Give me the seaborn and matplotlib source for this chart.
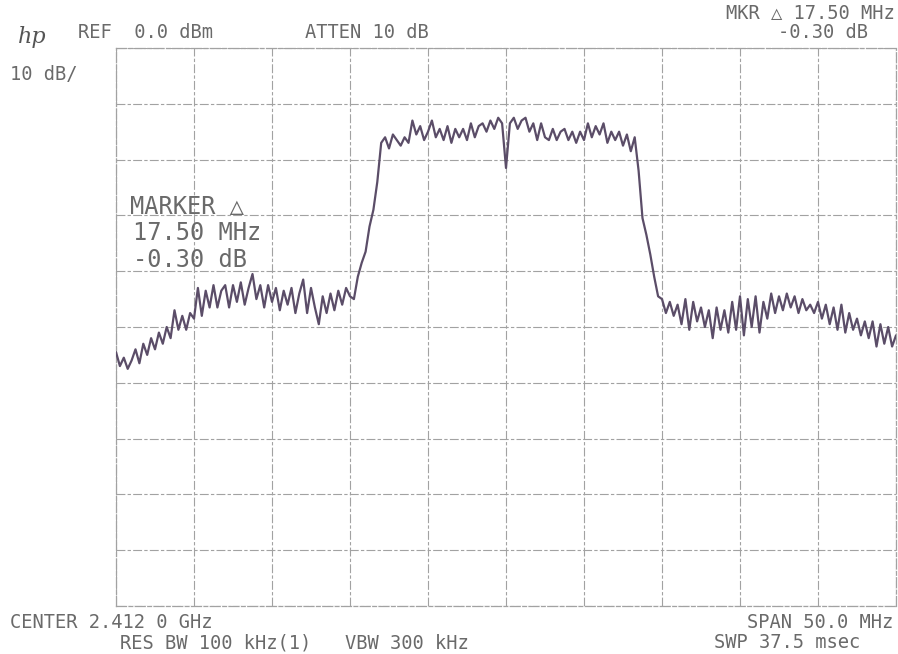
import numpy as np
import pandas as pd
import matplotlib
matplotlib.use("Agg")
import matplotlib.pyplot as plt
import seaborn as sns

# Sweep setup: 50 MHz span around 2.412 GHz, 10 dB/div from a 0 dBm reference
span_mhz = 50.0
ref_dbm = 0.0
db_per_div = 10.0

# Trace level in dBm across the sweep (left to right)
level_dbm = [
    -54.5, -57.0, -55.5, -57.5, -56.0, -54.0, -56.5, -53.0, -55.0, -52.0,
    -54.0, -51.0, -53.0, -50.0, -52.0, -47.0, -50.5, -48.0, -50.5, -47.5,
    -48.5, -43.0, -48.0, -43.5, -46.5, -42.5, -46.5, -43.5, -42.5, -46.5,
    -42.5, -45.5, -42.0, -46.0, -43.0, -40.5, -45.0, -42.5, -46.5, -42.5,
    -45.5, -43.0, -47.0, -43.5, -46.0, -43.0, -47.5, -44.0, -41.5, -47.5,
    -43.0, -46.5, -49.5, -44.5, -47.5, -44.0, -47.0, -43.5, -46.0, -43.0,
    -44.5, -45.0, -41.0, -38.5, -36.5, -32.0, -29.0, -24.0, -17.0, -16.0,
    -18.0, -15.5, -16.5, -17.5, -16.0, -17.0, -13.0, -15.5, -14.0, -16.5,
    -15.0, -13.0, -16.0, -14.5, -16.5, -14.0, -17.0, -14.5, -16.0, -14.5,
    -16.5, -13.5, -16.0, -14.0, -13.5, -15.0, -13.0, -14.5, -12.5, -13.5,
    -21.5, -13.5, -12.5, -14.5, -13.0, -12.5, -15.0, -13.5, -16.5, -13.5,
    -16.0, -16.5, -14.5, -16.5, -15.0, -14.5, -16.5, -15.0, -17.0, -15.0,
    -16.5, -13.5, -16.0, -14.0, -15.5, -13.5, -17.0, -15.0, -16.5, -15.0,
    -17.5, -15.5, -18.5, -16.0, -22.0, -30.5, -33.5, -37.0, -41.0, -44.5,
    -45.0, -47.5, -45.5, -48.0, -46.0, -49.5, -45.0, -50.5, -45.5, -49.0,
    -46.5, -50.0, -47.0, -52.0, -46.5, -50.5, -47.0, -51.0, -45.5, -50.5,
    -44.5, -51.5, -45.0, -50.0, -44.5, -51.0, -45.5, -48.5, -44.0, -47.5,
    -44.5, -47.0, -44.0, -46.5, -44.5, -47.5, -45.0, -47.0, -46.0, -47.5,
    -45.5, -48.5, -46.0, -49.5, -46.5, -50.5, -46.0, -51.0, -47.5, -50.5,
    -48.5, -51.5, -49.0, -52.0, -49.0, -53.5, -49.5, -53.0, -50.0, -53.5,
    -51.5,
]

# Annotation texts printed around the graticule
header_left = "REF  0.0 dBm"
header_mid = "ATTEN 10 dB"
header_mkr = "MKR \u25b3 17.50 MHz"
header_mkr_val = "-0.30 dB"
scale_text = "10 dB/"
marker_lines = ["MARKER \u25b3", "17.50 MHz", "-0.30 dB"]
footer_center = "CENTER 2.412 0 GHz"
footer_span = "SPAN 50.0 MHz"
footer_bw = "RES BW 100 kHz(1)   VBW 300 kHz"
footer_swp = "SWP 37.5 msec"

freq_mhz = np.linspace(-span_mhz / 2, span_mhz / 2, len(level_dbm))
trace = pd.DataFrame({"offset_mhz": freq_mhz, "level_dbm": level_dbm})

sns.set_style("white")
plt.rcParams["font.family"] = ["DejaVu Sans Mono", "DejaVu Sans"]

W, H = 898, 654
fig = plt.figure(figsize=(W / 100, H / 100), dpi=100)
ax = fig.add_axes([116 / W, 1 - 606 / H, 780 / W, 558 / H])

grid_col = "#a2a2a2"
grid_ls = (0, (8, 2, 3, 2))
ax.set_xlim(-span_mhz / 2, span_mhz / 2)
ax.set_ylim(ref_dbm - 10 * db_per_div, ref_dbm)
ax.set_xticks(np.arange(-25, 25.1, 5))
ax.set_yticks(np.arange(-100, 0.1, 10))
ax.grid(True, color=grid_col, linestyle=grid_ls, linewidth=0.8)
ax.tick_params(length=0, labelbottom=False, labelleft=False)
for sp in ax.spines.values():
    sp.set_color(grid_col)
    sp.set_linestyle(grid_ls)
    sp.set_linewidth(0.9)

sns.lineplot(data=trace, x="offset_mhz", y="level_dbm", ax=ax,
             color="#5b4d68", linewidth=1.6, zorder=3)
ax.set_xlabel("")
ax.set_ylabel("")

txt_col = "#6a6a6a"
def ftext(x, y, s, size=13.5, ha="left", **kw):
    fig.text(x / W, 1 - y / H, s, ha=ha, va="center", fontsize=size,
             color=txt_col, **kw)

fig.text(18 / W, 1 - 37 / H, "hp", ha="left", va="center", fontsize=16,
         color="#555555", style="italic", family="DejaVu Serif")
ftext(78, 33, header_left)
ftext(305, 33, header_mid)
ftext(895, 13, header_mkr, ha="right")
ftext(868, 33, header_mkr_val, ha="right")
ftext(10, 75, scale_text)

for i, line in enumerate(marker_lines):
    ftext(130 if i == 0 else 133, 207 + i * 26.5, line, size=17)

ftext(10, 623, footer_center)
ftext(893, 623, footer_span, ha="right")
ftext(120, 643, footer_bw)
ftext(860, 643, footer_swp, ha="right")

fig.savefig("out.png", dpi=100, facecolor="white")
